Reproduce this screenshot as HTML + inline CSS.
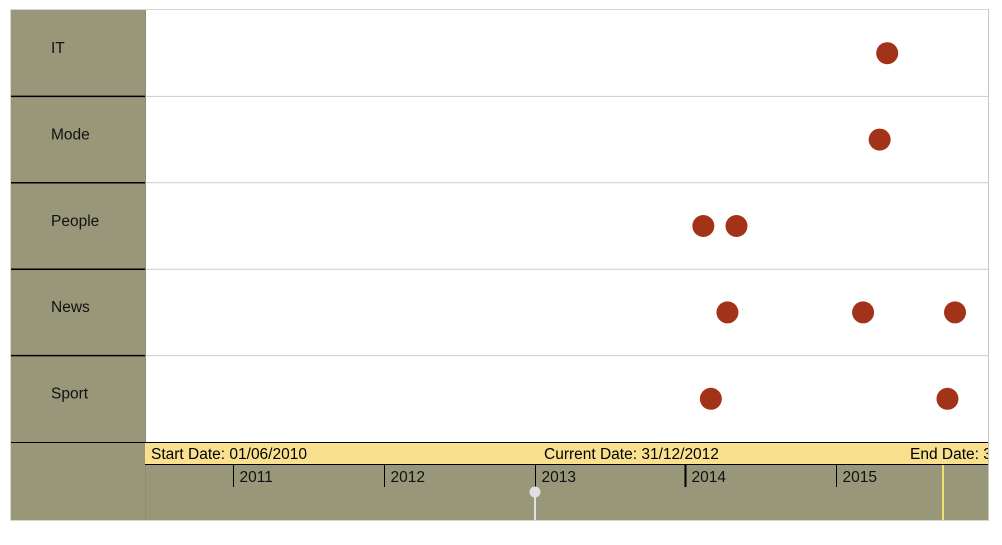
<!DOCTYPE html>
<html><head><meta charset="utf-8"><style>
body{margin:0;background:#fff;width:1002px;height:540px;overflow:hidden;font-family:"Liberation Sans",sans-serif}
</style></head><body>
<svg id="chart" width="1002" height="540" xmlns="http://www.w3.org/2000/svg" font-family="Liberation Sans, sans-serif">
<rect x="10.5" y="9.5" width="978" height="511" fill="#fff" stroke="#d8d8cc"/>
<rect x="11" y="10" width="134" height="510" fill="#99977a"/>
<rect x="145" y="442" width="843" height="78" fill="#99977a"/>
<line x1="145.5" y1="10" x2="145.5" y2="520" stroke="#8e8c70" stroke-width="1"/>
<rect x="145" y="442" width="843" height="22" fill="#f8e08e"/>
<line x1="11" y1="442.5" x2="988" y2="442.5" stroke="#000"/>
<line x1="145" y1="464.5" x2="988" y2="464.5" stroke="#000"/>
<text x="151" y="459" font-size="15.5">Start Date: 01/06/2010</text>
<text x="544" y="459" font-size="15.5">Current Date: 31/12/2012</text>
<text x="910" y="459" font-size="15.5">End Date: 31/12/2015</text>
<g id="rows"></g><g id="ticks"></g><g id="dots"></g>
<line x1="943" y1="465" x2="943" y2="520" stroke="#f0e070" stroke-width="2"/>
<line x1="535" y1="492" x2="535" y2="520" stroke="#e0dfe4" stroke-width="2"/>
<circle cx="535" cy="492" r="5.5" fill="#e0dfe4"/>
<rect x="988" y="9" width="14" height="531" fill="#fff"/>
<line x1="988.5" y1="9" x2="988.5" y2="521" stroke="#c8c8b8"/>
</svg>
<script>
const categories=["IT","Mode","People","News","Sport"];
const eventCats=["IT","Mode","People","People","News","News","News","Sport","Sport"];
const eventDates=[2015.34,2015.29,2014.12,2014.34,2014.28,2015.18,2015.79,2014.17,2015.74];
const tickYears=[2011,2012,2013,2014,2015];
const ns="http://www.w3.org/2000/svg";
const x0=145,pxPerYear=150.7,startYear=2010.415;
const xs=v=>x0+(v-startYear)*pxPerYear;
const rowTop=10,rowH=86.4;
const ys=c=>rowTop+categories.indexOf(c)*rowH+rowH/2;
function mk(t,a,p){const e=document.createElementNS(ns,t);for(const k in a)e.setAttribute(k,a[k]);p.appendChild(e);return e;}
const rows=document.getElementById('rows');
categories.forEach((c,i)=>{
 const y=rowTop+i*rowH;
 if(i>0){
  const l1=mk('line',{x1:11,x2:145,y1:y,y2:y,stroke:'#000','stroke-width':1.5},rows);
  
  
  const l2=mk('line',{x1:146,x2:988,y1:y,y2:y,stroke:'#ccc'},rows);
  
  
 }
 const t=mk('text',{x:51,y:y+43,'font-size':15.5,fill:'#111'},rows);t.textContent=c;
 
 
});
const ticks=document.getElementById('ticks');
tickYears.forEach(yr=>{
 const x=Math.round(xs(yr))+0.5;
 const l=mk('line',{x1:x,x2:x,y1:465,y2:487,stroke:'#000','stroke-width':yr===2014?2:1},ticks);
 
 
 const t=mk('text',{x:x+6,y:482,'font-size':15.5,fill:'#111'},ticks);t.textContent=yr;
 
 
});
const dots=document.getElementById('dots');
eventDates.forEach((d,i)=>{
 const c=mk('circle',{cx:xs(d),cy:ys(eventCats[i]),r:11,fill:'#a33318'},dots);
 
 
});
</script>
</body></html>
